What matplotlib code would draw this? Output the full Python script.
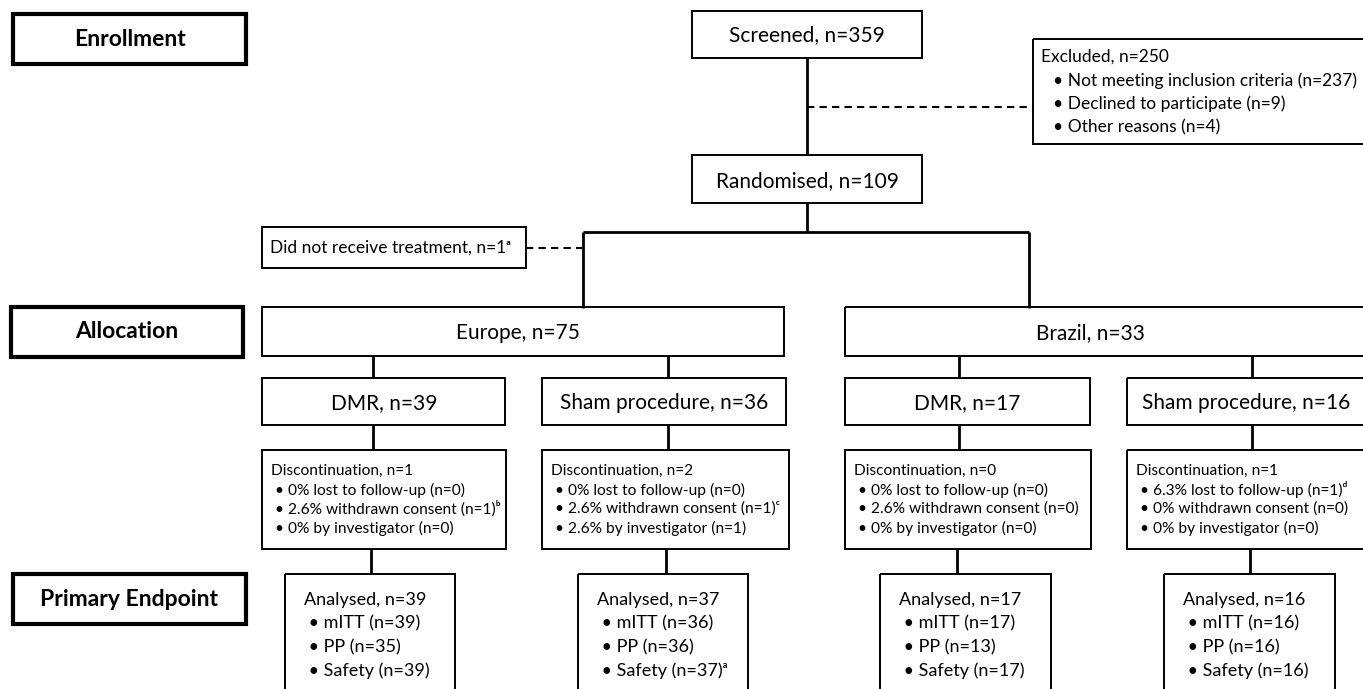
import matplotlib.pyplot as plt
from matplotlib.patches import Rectangle

plt.rcParams['font.family'] = ['Lato', 'DejaVu Sans']

# --- flow numbers ---
stage_labels = ['Enrollment', 'Allocation', 'Primary Endpoint']
screened_n = 359
excluded_n = 250
excluded_reasons = ['Not meeting inclusion criteria', 'Declined to participate', 'Other reasons']
excluded_counts = [237, 9, 4]
randomised_n = 109
no_treatment_n = 1
regions = ['Europe', 'Brazil']
region_n = [75, 33]

arms = ['DMR', 'Sham procedure', 'DMR', 'Sham procedure']
arm_n = [39, 36, 17, 16]
disc_n = [1, 2, 0, 1]
lost_pct = ['0%', '0%', '0%', '6.3%']
lost_n = [0, 0, 0, 1]
lost_note = ['', '', '', 'ᵈ']
withdrawn_pct = ['2.6%', '2.6%', '2.6%', '0%']
withdrawn_n = [1, 1, 0, 0]
withdrawn_note = ['ᵇ', 'ᶜ', '', '']
investigator_pct = ['0%', '2.6%', '0%', '0%']
investigator_n = [0, 1, 0, 0]
analysed_n = [39, 37, 17, 16]
mitt_n = [39, 36, 17, 16]
pp_n = [35, 36, 13, 16]
safety_n = [39, 37, 17, 16]
safety_note = ['', 'ᵃ', '', '']

# --- layout (pixels, y downwards) ---
W, H = 1363, 689
stage_boxes = [(13, 14, 246, 64), (11, 307, 243, 357), (13, 574, 246, 624)]
arm_boxes = [(262, 505), (542, 786), (845, 1090), (1127, 1380)]
disc_boxes = [(262, 506), (542, 789), (845, 1091), (1127, 1380)]
ana_boxes = [(285, 455), (578, 748), (880, 1051), (1164, 1335)]
arm_cx = [373, 668, 959, 1252]
arm_text_x = [384, 664, 967, 1246]
region_boxes = [(262, 784), (845, 1380)]
region_text_x = [518, 1090]
branch_x = [583, 1029]
main_x = 807

fig = plt.figure(figsize=(W / 100, H / 100), dpi=100)
ax = fig.add_axes([0, 0, 1, 1])
ax.set_xlim(0, W)
ax.set_ylim(H, 0)
ax.axis('off')


def box(x0, y0, x1, y1, lw=1.4):
    ax.add_patch(Rectangle((x0, y0), x1 - x0, y1 - y0, fill=False,
                           edgecolor='black', linewidth=lw, zorder=2))


def line(xs, ys, lw=2.0, ls='-'):
    if ls == '-':
        ax.plot(xs, ys, color='black', linewidth=lw, solid_capstyle='butt', zorder=1)
    else:
        ax.plot(xs, ys, color='black', linewidth=lw, dashes=(3.5, 2.5), zorder=1)


# stage label boxes
for (x0, y0, x1, y1), lab in zip(stage_boxes, stage_labels):
    box(x0, y0, x1, y1, lw=3.0)
    ax.text((x0 + x1) / 2, (y0 + y1) / 2, lab, ha='center', va='center',
            fontsize=16.5, fontweight='bold')

# screened / excluded / randomised
box(692, 11, 922, 58)
ax.text(main_x, 35, f'Screened, n={screened_n}', ha='center', va='center', fontsize=15)
line([main_x, main_x], [58, 155])
line([main_x, 1033], [107, 107], lw=1.5, ls='--')
box(1033, 39, 1380, 144)
ax.text(1041, 57, f'Excluded, n={excluded_n}', ha='left', va='center', fontsize=12.5)
for i, (r, c) in enumerate(zip(excluded_reasons, excluded_counts)):
    ax.text(1053, 81 + i * 23, f'• {r} (n={c})', ha='left', va='center', fontsize=12.5)

box(692, 155, 922, 203)
ax.text(main_x, 181, f'Randomised, n={randomised_n}', ha='center', va='center', fontsize=15)
line([main_x, main_x], [203, 232])
line([branch_x[0], branch_x[1]], [232, 232])
for bx in branch_x:
    line([bx, bx], [232, 308])

box(262, 227, 526, 268)
ax.text(270, 248, f'Did not receive treatment, n={no_treatment_n}ᵃ', ha='left',
        va='center', fontsize=12.5)
line([526, branch_x[0]], [248, 248], lw=1.5, ls='--')

# regions
for (x0, x1), tx, name, n in zip(region_boxes, region_text_x, regions, region_n):
    box(x0, 307, x1, 356)
    ax.text(tx, 333, f'{name}, n={n}', ha='center', va='center', fontsize=15)

# arms
for i in range(4):
    cx = arm_cx[i]
    line([cx, cx], [356, 378])
    x0, x1 = arm_boxes[i]
    box(x0, 378, x1, 425)
    ax.text(arm_text_x[i], 403, f'{arms[i]}, n={arm_n[i]}', ha='center', va='center',
            fontsize=15)

    line([cx, cx], [425, 450])
    x0, x1 = disc_boxes[i]
    box(x0, 450, x1, 549)
    rows = [f'Discontinuation, n={disc_n[i]}',
            f' • {lost_pct[i]} lost to follow-up (n={lost_n[i]}){lost_note[i]}',
            f' • {withdrawn_pct[i]} withdrawn consent (n={withdrawn_n[i]}){withdrawn_note[i]}',
            f' • {investigator_pct[i]} by investigator (n={investigator_n[i]})']
    for j, r in enumerate(rows):
        ax.text(x0 + 9, 471 + j * 19, r, ha='left', va='center', fontsize=11.2)

    line([cx - 2, cx - 2], [549, 574])
    x0, x1 = ana_boxes[i]
    box(x0, 574, x1, 700)
    rows = [f'Analysed, n={analysed_n[i]}',
            f' • mITT (n={mitt_n[i]})',
            f' • PP (n={pp_n[i]})',
            f' • Safety (n={safety_n[i]}){safety_note[i]}']
    for j, r in enumerate(rows):
        ax.text(x0 + 19, 600 + j * 23.5, r, ha='left', va='center', fontsize=13)

fig.savefig('out.png', dpi=100)
